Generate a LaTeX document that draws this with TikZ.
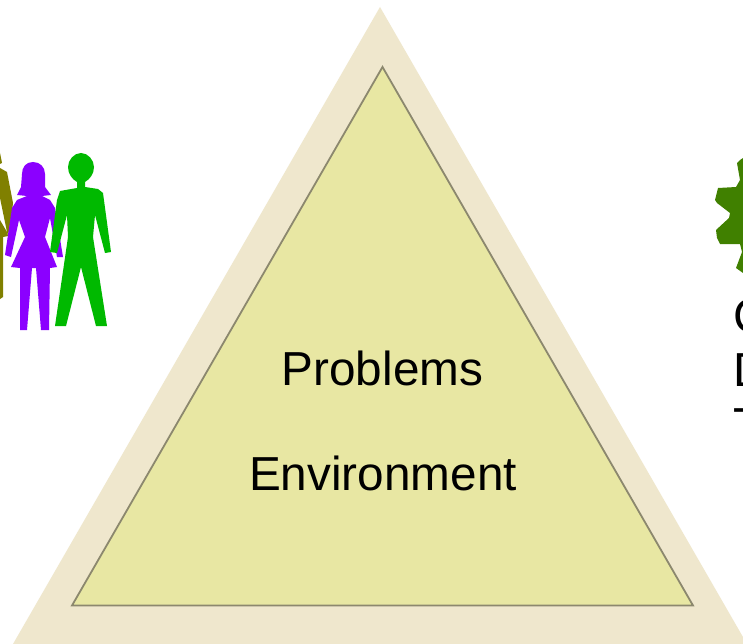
\documentclass[tikz,border=0pt]{standalone}
\usepackage{fontspec}
\setmainfont{Liberation Sans}
\definecolor{outertri}{RGB}{239,231,205}
\definecolor{innertri}{RGB}{232,231,163}
\definecolor{triedge}{RGB}{140,136,110}
\definecolor{olivep}{RGB}{128,128,0}
\definecolor{purplep}{RGB}{139,0,255}
\definecolor{greenp}{RGB}{0,185,0}
\definecolor{gearc}{RGB}{64,128,0}
\tikzset{
 bigtext/.style={font=\fontsize{47.7}{50}\selectfont,text=black,inner sep=0pt,anchor=base},
 sidetext/.style={font=\fontsize{47.7}{50}\selectfont,text=black,inner sep=0pt,anchor=base west}
}
\begin{document}
\begin{tikzpicture}[x=1pt,y=-1pt]
\useasboundingbox (0,0) rectangle (743,644);
\clip (0,0) rectangle (743,644);
\fill[white] (0,0) rectangle (743,644);
% triangles
\fill[outertri] (380,7) -- (747,644) -- (13,644) -- cycle;
\draw[triedge,fill=innertri,line width=1.8pt,miter limit=10] (382.5,67) -- (693,605.5) -- (72,605.5) -- cycle;
\node[bigtext] (problems) at (382.5,385) {Problems};
\node[bigtext] (environment) at (383,490) {Environment};
% olive person (cropped)
\fill[olivep] (0,153) -- (2,163) -- (0,164) -- cycle;
\fill[olivep] (0,168) -- (7,172) -- (13,203) -- (12,212) -- (8,236) -- (7,232) -- (0,198) -- cycle;
\fill[olivep] (0,220) -- (7,232) -- (8,236) -- (3,237) -- (3,297) -- (0,299) -- cycle;
% purple woman
\fill[purplep] (33,162)
 .. controls (26,162) and (22,167) .. (22,174)
 -- (21,187) -- (17,195) -- (27,196) -- (17,200) -- (12,208)
 -- (5,255) -- (11,257) -- (19,220) -- (25,237) -- (11,267) -- (20,268)
 -- (20,330) -- (27,330) -- (32,268) -- (36,268) -- (41,330) -- (49,330) -- (50,268) -- (57,267)
 -- (45,237) -- (50,218) -- (57,257) -- (63,257) -- (55,208) -- (50,200) -- (42,196) -- (51,195) -- (45,187) -- (45,174)
 .. controls (45,167) and (40,162) .. (33,162) -- cycle;
% green man
\fill[greenp] (81,153)
 .. controls (74,153) and (68,160) .. (68,167)
 .. controls (68,174) and (72,179) .. (77,182)
 -- (77,188) -- (60,191) -- (57,200)
 -- (50,252) -- (57,253) -- (67,215) -- (68,237) -- (55,326) -- (66,326) -- (81,267) -- (96,326) -- (107,326) -- (93,237) -- (95,215) -- (105,253) -- (111,252) -- (103,193) -- (98,189) -- (85,187) -- (85,182)
 .. controls (90,179) and (94,174) .. (94,167)
 .. controls (94,160) and (88,153) .. (81,153) -- cycle;
% gear (cropped)
\fill[gearc] (743,158) -- (740,160) -- (737,163) -- (740,180) -- (736,187) -- (718,188) -- (715,200) -- (717,203) -- (730,213) -- (729,218) -- (716,230) -- (717,238) -- (720,244) -- (740,244) -- (742,252) -- (736,268) -- (743,273) -- cycle;
% cropped text
\node[sidetext] (linec) at (733,332) {C};
\node[sidetext] (lined) at (733,386) {D};
\node[sidetext] (linet) at (733,441) {T};
\end{tikzpicture}
\end{document}
